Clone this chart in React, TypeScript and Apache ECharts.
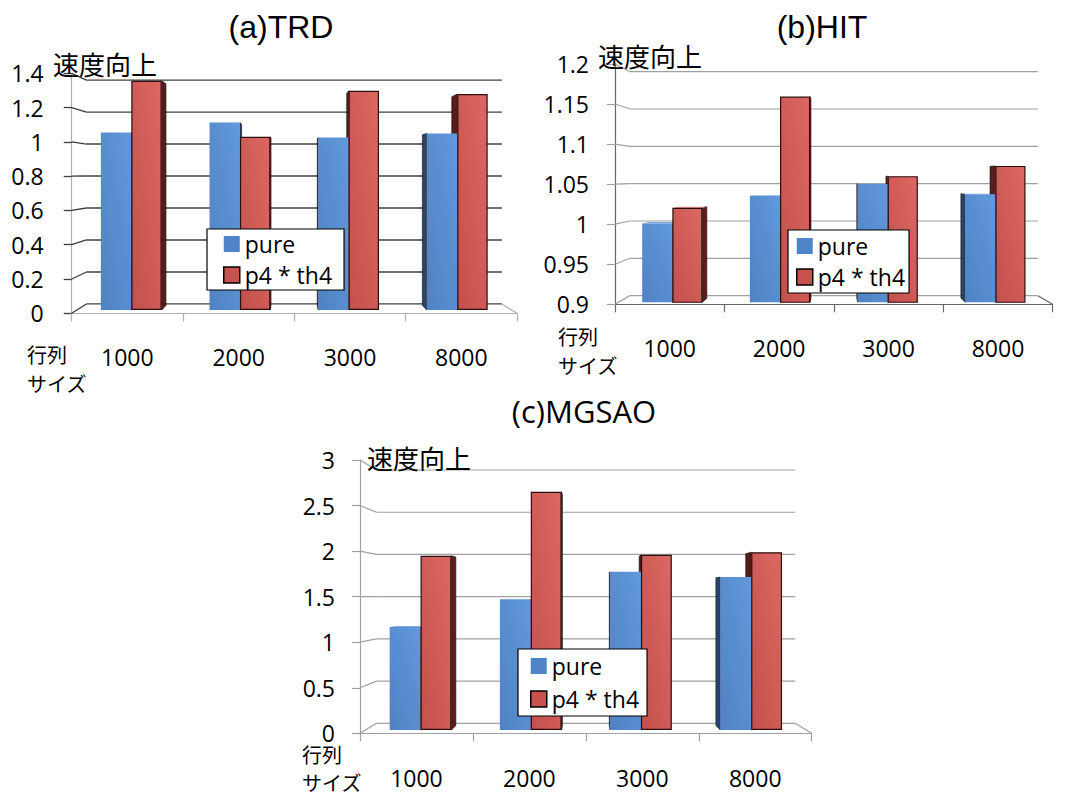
import React, { useEffect, useRef } from 'react';
import * as echarts from 'echarts';

const categories = ['1000', '2000', '3000', '8000'];
const seriesNames = ['pure', 'p4 * th4'];

const trdPure = [1.06, 1.12, 1.03, 1.055];
const trdP4 = [1.37, 1.035, 1.31, 1.29];
const hitPure = [1.0, 1.035, 1.05, 1.037];
const hitP4 = [1.02, 1.161, 1.06, 1.073];
const mgsaoPure = [1.16, 1.47, 1.78, 1.72];
const mgsaoP4 = [1.96, 2.68, 1.97, 2.0];

const trdTicks = ['0', '0.2', '0.4', '0.6', '0.8', '1', '1.2', '1.4'];
const hitTicks = ['0.9', '0.95', '1', '1.05', '1.1', '1.15', '1.2'];
const mgsaoTicks = ['0', '0.5', '1', '1.5', '2', '2.5', '3'];

const titles = ['(a)TRD', '(b)HIT', '(c)MGSAO'];
const yAxisName = '速度向上';
const xAxisNameLines = ['行列', 'サイズ'];

const NUM_FONT = 'Open Sans';
const CJK_FONT = 'Noto Sans CJK JP';
const BAR_FRAC = 0.28;
const SIDE_K = 0.033;

const panels = [
  {
    title: titles[0], titleX: 281, titleY: 27, titleFont: 'Liberation Sans', titleSize: 32,
    pure: trdPure, p4: trdP4, ticks: trdTicks,
    front: { l: 71.7, t: 73.3, r: 517, b: 313.3 }, vx: 291, vy: 174, sBack: 0.933, sBar: 0.976,
    wallColor: '#3c3c3c', wallWidth: 1.3, axisColor: '#b0b0b0', tickColor: '#3c3c3c',
    yLabelMargin: 28, xLabelMargin: 32,
    yNameX: 53, yNameY: 63, xNameX: 27, xName1Y: 354, xName2Y: 383,
    legendL: 207, legendT: 229, legendPad: [2, 12, 2, 16], legendGap: 5,
  },
  {
    title: titles[1], titleX: 822, titleY: 27, titleFont: 'Liberation Sans', titleSize: 32,
    pure: hitPure, p4: hitP4, ticks: hitTicks,
    front: { l: 615, t: 64, r: 1052.7, b: 304.3 }, vx: 834, vy: 177, sBack: 0.932, sBar: 0.984,
    wallColor: '#a0a0a0', wallWidth: 1.2, axisColor: '#666666', tickColor: '#a0a0a0',
    yLabelMargin: 26, xLabelMargin: 32,
    yNameX: 598, yNameY: 55, xNameX: 558, xName1Y: 336, xName2Y: 365,
    legendL: 788, legendT: 230, legendPad: [3, 4, 3, 8], legendGap: 5,
  },
  {
    title: titles[2], titleX: 584, titleY: 411, titleFont: 'Open Sans', titleSize: 31,
    pure: mgsaoPure, p4: mgsaoP4, ticks: mgsaoTicks,
    front: { l: 360, t: 460, r: 811.7, b: 733.3 }, vx: 586, vy: 597, sBack: 0.927, sBar: 0.976,
    wallColor: '#a0a0a0', wallWidth: 1.2, axisColor: '#a0a0a0', tickColor: '#a0a0a0',
    yLabelMargin: 25, xLabelMargin: 33,
    yNameX: 367, yNameY: 457, xNameX: 302, xName1Y: 754, xName2Y: 782,
    legendL: 518, legendT: 649, legendPad: [4, 8, 4, 12], legendGap: 7,
  },
];

const fmt = (v: number) => String(Number(v.toFixed(2)));

function buildOption() {
  const grid: any[] = [];
  const xAxis: any[] = [];
  const yAxis: any[] = [];
  const series: any[] = [];
  const legend: any[] = [];
  const graphic: any[] = [];

  const blueGrad = new echarts.graphic.LinearGradient(0, 1, 1, 0, [
    { offset: 0, color: '#4f82c3' },
    { offset: 1, color: '#6199dc' },
  ]);
  const redGrad = new echarts.graphic.LinearGradient(0, 1, 1, 0, [
    { offset: 0, color: '#c4504d' },
    { offset: 1, color: '#dc6863' },
  ]);

  panels.forEach((P, i) => {
    const tickVals = P.ticks.map(Number);
    const min = tickVals[0];
    const max = tickVals[tickVals.length - 1];
    const interval = Number((tickVals[1] - tickVals[0]).toFixed(4));
    const f = P.front;
    const toBar = (x: number, y: number) => [P.vx + (x - P.vx) * P.sBar, P.vy + (y - P.vy) * P.sBar];
    const bTL = toBar(f.l, f.t);
    const bBR = toBar(f.r, f.b);
    const gi = i * 2;

    grid.push({ left: f.l, top: f.t, width: f.r - f.l, height: f.b - f.t });
    grid.push({ left: bTL[0], top: bTL[1], width: bBR[0] - bTL[0], height: bBR[1] - bTL[1] });

    xAxis.push({
      type: 'category', gridIndex: gi, data: categories, boundaryGap: true,
      axisLine: { show: true, lineStyle: { color: P.axisColor, width: 1.2 } },
      axisTick: { show: true, length: 8, interval: 0, lineStyle: { color: P.axisColor, width: 1.2 } },
      axisLabel: { margin: P.xLabelMargin, fontSize: 23, fontFamily: NUM_FONT, color: '#000', interval: 0 },
      splitLine: { show: false },
    });
    xAxis.push({ type: 'category', gridIndex: gi + 1, data: categories, show: false });

    yAxis.push({
      type: 'value', gridIndex: gi, min, max, interval,
      axisLine: { show: true, lineStyle: { color: P.axisColor, width: 1.2 } },
      axisTick: { show: true, length: 8, lineStyle: { color: P.tickColor, width: P.wallWidth } },
      axisLabel: { margin: P.yLabelMargin, fontSize: 23, fontFamily: NUM_FONT, color: '#000', formatter: fmt },
      splitLine: { show: false },
    });
    yAxis.push({ type: 'value', gridIndex: gi + 1, min, max, interval, show: false, splitLine: { show: false } });

    // back wall gridlines, side-wall connectors, floor edge
    series.push({
      type: 'custom', name: 'wall' + i, xAxisIndex: gi, yAxisIndex: gi, z: 1, silent: true,
      data: tickVals.map((v) => [0, v]),
      renderItem: (params: any, api: any) => {
        const v = api.value(1);
        const p = api.coord([0, v]);
        const cs = params.coordSys;
        const yF = p[1];
        const xL = cs.x;
        const xR = cs.x + cs.width;
        const back = (x: number, y: number) => [P.vx + (x - P.vx) * P.sBack, P.vy + (y - P.vy) * P.sBack];
        const bl = back(xL, yF);
        const br = back(xR, yF);
        const st = { stroke: P.wallColor, lineWidth: P.wallWidth };
        const children: any[] = [
          { type: 'line', shape: { x1: xL, y1: yF, x2: bl[0], y2: bl[1] }, style: st },
          { type: 'line', shape: { x1: bl[0], y1: bl[1], x2: br[0], y2: br[1] }, style: st },
        ];
        if (params.dataIndex === 0) {
          children.push({ type: 'line', shape: { x1: br[0], y1: br[1], x2: xR, y2: yF }, style: { stroke: P.axisColor, lineWidth: 1.2 } });
        }
        return { type: 'group', children };
      },
    });

    // 3D side / top faces of the columns
    series.push({
      type: 'custom', name: 'faces' + i, xAxisIndex: gi + 1, yAxisIndex: gi + 1, z: 2, silent: true,
      data: categories.map((c, k) => [k, P.pure[k], P.p4[k]]),
      renderItem: (params: any, api: any) => {
        const k = api.value(0);
        const base = api.coord([k, min]);
        const catW = api.size([1, 0])[0];
        const w = catW * BAR_FRAC;
        const yb = base[1];
        const toV = (x: number, y: number) => [x + (P.vx - x) * SIDE_K, y + (P.vy - y) * SIDE_K];
        const bars = [
          { xl: base[0] - w, xr: base[0], top: api.coord([k, api.value(1)])[1], side: '#27466f', topc: '#7eaae0' },
          { xl: base[0], xr: base[0] + w, top: api.coord([k, api.value(2)])[1], side: '#5a1d1b', topc: '#e58580' },
        ];
        const children: any[] = [];
        bars.forEach((b) => {
          if (b.xr < P.vx - 1) {
            const a = toV(b.xr, b.top);
            const d = toV(b.xr, yb);
            children.push({ type: 'polygon', shape: { points: [[b.xr, b.top], a, d, [b.xr, yb]] }, style: { fill: b.side, stroke: '#1a0a0a', lineWidth: 0.6 } });
          } else if (b.xl > P.vx + 1) {
            const a = toV(b.xl, b.top);
            const d = toV(b.xl, yb);
            children.push({ type: 'polygon', shape: { points: [[b.xl, b.top], a, d, [b.xl, yb]] }, style: { fill: b.side, stroke: '#1a0a0a', lineWidth: 0.6 } });
          }
          if (b.top > P.vy) {
            children.push({ type: 'polygon', shape: { points: [[b.xl, b.top], [b.xr, b.top], toV(b.xr, b.top), toV(b.xl, b.top)] }, style: { fill: b.topc } });
          }
        });
        return { type: 'group', children };
      },
    });

    series.push({
      type: 'bar', name: seriesNames[0], xAxisIndex: gi + 1, yAxisIndex: gi + 1, z: 3,
      barWidth: BAR_FRAC * 100 + '%', barGap: '0%',
      data: P.pure,
      itemStyle: { color: blueGrad },
    });
    series.push({
      type: 'bar', name: seriesNames[1], xAxisIndex: gi + 1, yAxisIndex: gi + 1, z: 3,
      barWidth: BAR_FRAC * 100 + '%', barGap: '0%',
      data: P.p4,
      itemStyle: { color: redGrad, borderColor: '#2b0e0e', borderWidth: 1.2 },
    });

    legend.push({
      left: P.legendL, top: P.legendT, orient: 'vertical', padding: P.legendPad, itemGap: P.legendGap,
      itemWidth: 16, itemHeight: 16, itemTextGap: 7,
      backgroundColor: '#fff', borderColor: '#000', borderWidth: 1.2, borderRadius: 0,
      selectedMode: false, z: 10,
      textStyle: { fontFamily: NUM_FONT, fontSize: 23, color: '#000', lineHeight: 26 },
      data: [
        { name: seriesNames[0], icon: 'rect', itemStyle: { color: '#4f84c8', borderWidth: 0 } },
        { name: seriesNames[1], icon: 'rect', itemStyle: { color: '#c9524f', borderColor: '#000', borderWidth: 1.5 } },
      ],
    });

    graphic.push({
      type: 'text', x: P.titleX, y: P.titleY, z: 10,
      style: { text: P.title, fontFamily: P.titleFont, fontSize: P.titleSize, fill: '#000', textAlign: 'center', textVerticalAlign: 'middle' },
    });
    graphic.push({
      type: 'text', x: P.yNameX, y: P.yNameY, z: 10,
      style: { text: yAxisName, fontFamily: CJK_FONT, fontSize: 26, fill: '#000', textAlign: 'left', textVerticalAlign: 'middle' },
    });
    graphic.push({
      type: 'text', x: P.xNameX, y: P.xName1Y, z: 10,
      style: { text: xAxisNameLines[0], fontFamily: CJK_FONT, fontSize: 20, fill: '#000', textAlign: 'left', textVerticalAlign: 'middle' },
    });
    graphic.push({
      type: 'text', x: P.xNameX, y: P.xName2Y, z: 10,
      style: { text: xAxisNameLines[1], fontFamily: CJK_FONT, fontSize: 20, fill: '#000', textAlign: 'left', textVerticalAlign: 'middle' },
    });
  });

  return {
    animation: false,
    backgroundColor: '#fff',
    grid, xAxis, yAxis, series, legend, graphic,
  };
}

export default function App() {
  const ref = useRef<HTMLDivElement>(null);
  useEffect(() => {
    const chart = echarts.init(ref.current!, null, { renderer: 'svg' });
    chart.setOption(buildOption() as any);
    return () => chart.dispose();
  }, []);
  return (
    <div
      ref={ref}
      style={{ position: 'absolute', left: 0, top: 0, width: 1071, height: 798, background: '#fff' }}
    />
  );
}
